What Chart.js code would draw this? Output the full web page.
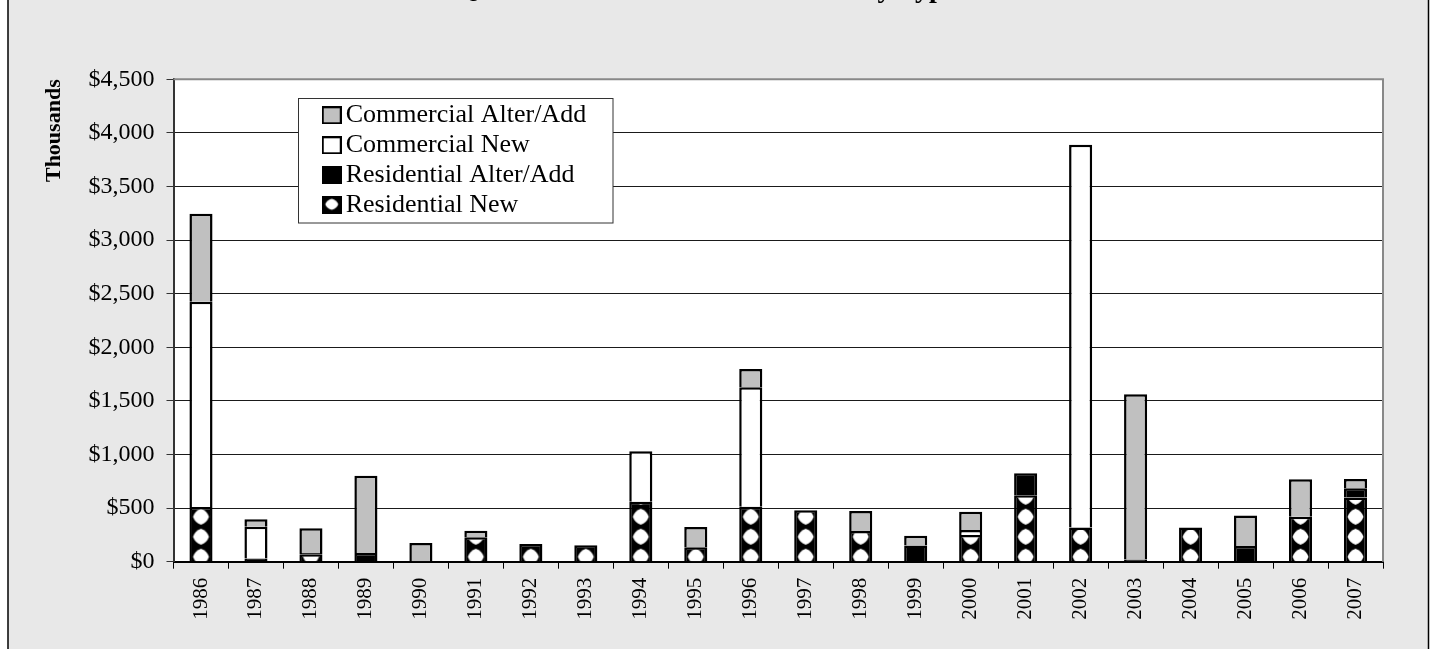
<!DOCTYPE html>
<html>
<head>
<meta charset="utf-8">
<script src="https://cdn.jsdelivr.net/npm/chart.js@4.4.1/dist/chart.umd.min.js"></script>
<style>
  html, body { margin: 0; padding: 0; background: #fff; }
  #view { position: relative; width: 1432px; height: 649px; overflow: hidden; }
  #box { position: absolute; left: 0; top: -60px; width: 1432px; height: 709px; }
  canvas { display: block; }
</style>
</head>
<body>
<div id="view"><div id="box"><canvas id="c" width="1432" height="709"></canvas></div></div>
<script>
// ---------------- data ----------------
const titleText = "Qualified Construction Valuation by Type";
const yAxisTitle = "Thousands";
const years = ["1986","1987","1988","1989","1990","1991","1992","1993","1994","1995","1996",
               "1997","1998","1999","2000","2001","2002","2003","2004","2005","2006","2007"];
const seriesNames = ["Residential New", "Residential Alter/Add", "Commercial New", "Commercial Alter/Add"];
const residentialNew   = [510, 0, 70, 0, 0, 228, 165, 153, 560, 134, 513, 480, 287, 0, 250, 620, 318, 0, 318, 0, 420, 600];
const residentialAlter = [0, 30, 10, 80, 0, 0, 0, 0, 0, 0, 0, 0, 0, 150, 0, 205, 0, 20, 0, 147, 0, 85];
const commercialNew    = [1915, 297, 0, 0, 0, 0, 0, 0, 470, 0, 1115, 0, 0, 0, 45, 0, 3572, 0, 0, 0, 0, 0];
const commercialAlter  = [820, 70, 232, 722, 175, 60, 0, 0, 0, 190, 170, 0, 186, 93, 170, 0, 0, 1543, 0, 283, 350, 87];
const yTickMin = 0, yTickMax = 4500, yTickStep = 500;
const legendOrder = [3, 2, 1, 0];

// ---------------- styles ----------------
const SERIF = "'Liberation Serif', 'Times New Roman', serif";
Chart.defaults.font.family = SERIF;
Chart.defaults.color = '#000';

function blob(g, cx, cy, rx, ry) {
  g.beginPath();
  g.moveTo(cx, cy - ry);
  g.quadraticCurveTo(cx + rx * 0.75, cy - ry * 0.75, cx + rx, cy);
  g.quadraticCurveTo(cx + rx * 0.75, cy + ry * 0.75, cx, cy + ry);
  g.quadraticCurveTo(cx - rx * 0.75, cy + ry * 0.75, cx - rx, cy);
  g.quadraticCurveTo(cx - rx * 0.75, cy - ry * 0.75, cx, cy - ry);
  g.closePath();
  g.fill();
}

// pattern tile for "Residential New"
const tile = document.createElement('canvas');
tile.width = 55; tile.height = 20;
(function () {
  const g = tile.getContext('2d');
  g.fillStyle = '#000'; g.fillRect(0, 0, 55, 20);
  g.fillStyle = '#fff';
  blob(g, 27.5, 10, 8, 8);
  g.fillRect(37, 8, 1.5, 3);
})();

function patternFill(c) {
  const ch = c.chart;
  const xs = ch.scales && ch.scales.x, ys = ch.scales && ch.scales.y;
  if (!xs || !ys || c.dataIndex === undefined) return '#000';
  const cx = xs.getPixelForValue(c.dataIndex);
  const base = ys.getPixelForValue(0);
  const pat = ch.ctx.createPattern(tile, 'repeat');
  pat.setTransform(new DOMMatrix().translate(cx - 27.5, base - 15));
  return pat;
}

// legend markers
function makeMarker(kind) {
  const m = document.createElement('canvas');
  m.width = 20; m.height = 18;
  const g = m.getContext('2d');
  g.fillStyle = '#000'; g.fillRect(0, 0, 20, 18);
  if (kind === 3) { g.fillStyle = '#c0c0c0'; g.fillRect(2, 2, 16, 14); }
  if (kind === 2) { g.fillStyle = '#fff'; g.fillRect(2, 2, 16, 14); }
  if (kind === 0) { g.fillStyle = '#fff'; blob(g, 10, 8, 6.5, 5.5); }
  return m;
}
const markers = [0, 1, 2, 3].map(makeMarker);

const framePlugin = {
  id: 'frame',
  beforeDraw(chart) {
    const { ctx, chartArea: a, width, height } = chart;
    ctx.save();
    ctx.fillStyle = '#fff'; ctx.fillRect(0, 0, width, height);
    ctx.fillStyle = '#e8e8e8'; ctx.fillRect(8, 0, 1420.5, height);
    ctx.strokeStyle = '#000'; ctx.lineWidth = 1.5;
    ctx.beginPath();
    ctx.moveTo(8, 0); ctx.lineTo(8, height);
    ctx.moveTo(1428.5, 0); ctx.lineTo(1428.5, height);
    ctx.stroke();
    ctx.fillStyle = '#fff';
    ctx.fillRect(a.left, a.top, a.right - a.left, a.bottom - a.top);
    ctx.restore();
  },
  beforeDatasetsDraw(chart) {
    const { ctx, chartArea: a } = chart;
    ctx.save();
    ctx.strokeStyle = '#888'; ctx.lineWidth = 2;
    ctx.beginPath();
    ctx.moveTo(a.left, a.top); ctx.lineTo(a.right, a.top); ctx.lineTo(a.right, a.bottom);
    ctx.stroke();
    ctx.restore();
  },
  afterLayout(chart) {
    const lg = chart.legend;
    if (!lg) return;
    const a = chart.chartArea;
    lg.left = a.left + 153.2; lg.top = a.top + 19;
    lg.right = lg.left + lg.width; lg.bottom = lg.top + lg.height;
    if (!lg.__wrapped) {
      lg.__wrapped = true;
      const orig = lg.draw;
      lg.draw = function (area) {
        const c = this.ctx;
        c.save();
        c.fillStyle = '#fff'; c.strokeStyle = '#333'; c.lineWidth = 1;
        const x = Math.round(this.left - 29.2) + 0.5, y = Math.round(this.top - 0.8) + 0.5;
        c.fillRect(x, y, 314.5, 124.5);
        c.strokeRect(x, y, 314.5, 124.5);
        c.restore();
        if (typeof this._draw === 'function') this._draw(); else orig.call(this, area);
      };
    }
  }
};

const barCommon = { borderColor: '#000', borderWidth: 2.5 };

new Chart(document.getElementById('c').getContext('2d'), {
  type: 'bar',
  data: {
    labels: years,
    datasets: [
      Object.assign({ label: seriesNames[0], data: residentialNew, backgroundColor: patternFill }, barCommon),
      Object.assign({ label: seriesNames[1], data: residentialAlter, backgroundColor: '#000' }, barCommon),
      Object.assign({ label: seriesNames[2], data: commercialNew, backgroundColor: '#fff' }, barCommon),
      Object.assign({ label: seriesNames[3], data: commercialAlter, backgroundColor: '#c0c0c0' }, barCommon)
    ]
  },
  options: {
    responsive: false,
    animation: false,
    layout: { padding: { left: 30, right: 49, top: 0, bottom: 0 } },
    datasets: { bar: { barPercentage: 0.42, categoryPercentage: 1 } },
    plugins: {
      title: {
        display: true, text: titleText, color: '#000',
        font: { size: 28, weight: 'bold', family: SERIF },
        padding: { top: 32.75, bottom: 72.95 }
      },
      legend: {
        position: 'chartArea', align: 'start',
        labels: {
          font: { size: 26, family: SERIF }, color: '#000', padding: 4,
          usePointStyle: true, pointStyleWidth: 2,
          generateLabels: (chart) => legendOrder.map(i => ({
            text: seriesNames[i], datasetIndex: i, hidden: false,
            fillStyle: 'rgba(0,0,0,0)', strokeStyle: 'rgba(0,0,0,0)', lineWidth: 0,
            pointStyle: markers[i], fontColor: '#000'
          }))
        }
      },
      tooltip: { enabled: false }
    },
    scales: {
      x: {
        stacked: true,
        grid: { display: true, drawOnChartArea: false, drawTicks: true, tickLength: 7, color: '#000', offset: true },
        border: { display: true, color: '#000', width: 2 },
        ticks: { font: { size: 21 }, color: '#000', minRotation: 90, maxRotation: 90, autoSkip: false, padding: 9 },
        afterFit(s) { s.height = 87.3; }
      },
      y: {
        stacked: true, min: yTickMin, max: yTickMax,
        ticks: {
          stepSize: yTickStep, font: { size: 24 }, color: '#000', padding: 12,
          callback: v => '$' + Number(v).toLocaleString('en-US')
        },
        grid: { color: '#1a1a1a', lineWidth: 1, tickLength: 7, tickColor: '#333' },
        border: { color: '#333', width: 2 },
        title: {
          display: true, text: yAxisTitle, align: 'end', color: '#000',
          font: { size: 22, weight: 'bold' }, padding: { top: 11, bottom: 0 }
        },
        afterFit(s) { s.width = 143.5; }
      }
    }
  },
  plugins: [framePlugin]
});
</script>
</body>
</html>
